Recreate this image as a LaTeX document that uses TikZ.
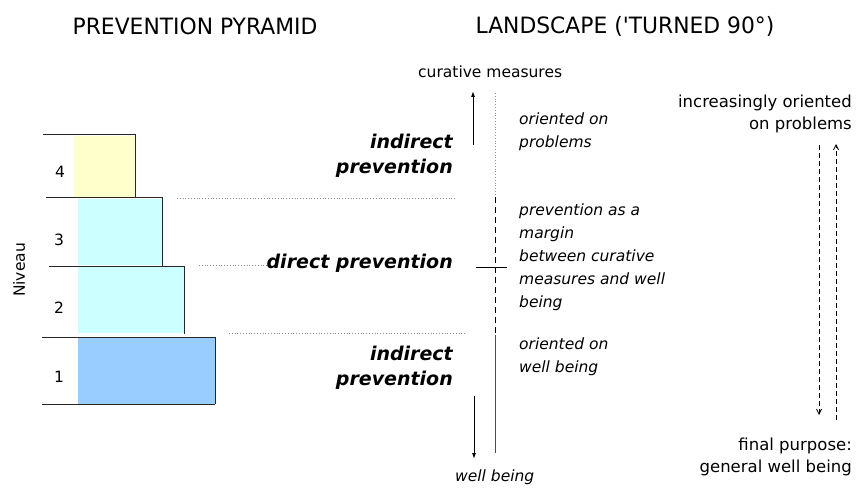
\documentclass[tikz,border=0pt]{standalone}
\usepackage{fontspec}
\setmainfont{DejaVu Sans}
\newfontfamily\titlefont[FakeStretch=0.97]{DejaVu Sans}
\usetikzlibrary{arrows.meta}
\definecolor{lvlyellow}{HTML}{FFFFCC}
\definecolor{lvlcyan}{HTML}{CCFFFF}
\definecolor{lvlblue}{HTML}{99CCFF}
\tikzset{
  ttl/.style={font=\titlefont\fontsize{22.5}{26}\selectfont, inner sep=0pt},
  plain/.style={font=\fontsize{15.5}{18}\selectfont, inner sep=0pt},
  ital/.style={font=\itshape\fontsize{15.5}{23}\selectfont, inner sep=0pt, align=left, anchor=west},
  bigbi/.style={font=\bfseries\itshape\fontsize{19}{25}\selectfont, inner sep=0pt, align=right, anchor=east},
  rtext/.style={font=\fontsize{16.5}{21.5}\selectfont, inner sep=0pt, align=right, anchor=east},
  lvltop/.style={line width=1pt, draw=black!85},
  guide/.style={line width=0.8pt, draw=black!45, dotted},
  arr/.style={line width=1pt, -{Latex[length=6pt,width=4pt]}},
  darr/.style={line width=0.8pt, dash pattern=on 5pt off 3pt, -{Straight Barb[length=5pt,width=5pt]}},
}
\begin{document}
\begin{tikzpicture}[x=1pt,y=-1pt]
\useasboundingbox (0,0) rectangle (859,489);
% titles
\node[ttl] (t1) at (195,26) {PREVENTION PYRAMID};
\node[ttl] (t2) at (625,26) {LANDSCAPE ('TURNED 90°)};
% pyramid fills
\fill[lvlyellow] (74,136) rectangle (135,197);
\fill[lvlcyan] (78,199) rectangle (162,265);
\fill[lvlcyan] (78,267) rectangle (184,333);
\fill[lvlblue] (78,338) rectangle (215,404);
% pyramid lines
\draw[lvltop] (43,135) -- (135,135) -- (135,198);
\draw[lvltop] (46,198) -- (162,198) -- (162,266);
\draw[lvltop] (49,266) -- (184,266) -- (184,334);
\draw[lvltop] (42,337) -- (215,337) -- (215,404);
\draw[lvltop] (42,404) -- (215,404);
% level numbers
\node[plain] (n4) at (60,172) {4};
\node[plain] (n3) at (59,240) {3};
\node[plain] (n2) at (59,308) {2};
\node[plain] (n1) at (59,377) {1};
\node[plain, rotate=90] (niv) at (19,270) {Niveau};
% bold italic labels
\node[bigbi] (ind1) at (453,156) {indirect\\prevention};
\node[bigbi] (dir) at (453,263) {direct prevention};
\node[bigbi] (ind2) at (453,368) {indirect\\prevention};
% guide lines
\coordinate (g1a) at (177,198); \coordinate (g1b) at (456,198);
\coordinate (g2a) at (199,265);
\coordinate (g3a) at (229,333); \coordinate (g3b) at (465,333);
\draw[guide] (g1a) -- (g1b);
\draw[guide] (g2a) -- (g2a -| dir.west);
\draw[guide] (g3a) -- (g3b);
% curative / well being
\node[plain, anchor=west] (cur) at (418,72) {curative measures};
\node[font=\itshape\fontsize{15.5}{18}\selectfont, inner sep=0pt, anchor=west] (wb) at (455,477) {well being};
\coordinate (upA) at (473,145); \coordinate (upB) at (473,91);
\draw[arr] (upA) -- (upB);
\coordinate (dnA) at (474,396); \coordinate (dnB) at (474,459);
\draw[arr] (dnA) -- (dnB);
% middle vertical line
\coordinate (v0) at (495,93); \coordinate (v1) at (495,197);
\coordinate (v2) at (495,335); \coordinate (v3) at (495,453);
\draw[line width=0.8pt, draw=black!45, dotted] (v0) -- (v1);
\draw[line width=1pt, dash pattern=on 6pt off 4pt] (v1) -- (v2);
\draw[line width=1pt, draw=black!70] (v2) -- (v3);
\coordinate (tkA) at (476,267); \coordinate (tkB) at (507,267);
\draw[line width=1pt] (tkA) -- (tkB);
% italic descriptions
\node[ital] (d1) at (519,132) {oriented on\\problems};
\node[ital] (d2) at (519,257) {prevention as a\\margin\\between curative\\measures and well\\being};
\node[ital] (d3) at (519,357) {oriented on\\well being};
% right side
\node[rtext] (r1) at (852,114) {increasingly oriented\\on problems};
\node[rtext] (r2) at (852,457) {final purpose:\\general well being};
\coordinate (la) at (819,145); \coordinate (lb) at (819,415);
\coordinate (ra) at (836,420); \coordinate (rb) at (836,144);
\draw[darr] (la) -- (lb);
\draw[darr] (ra) -- (rb);
\end{tikzpicture}
\end{document}
